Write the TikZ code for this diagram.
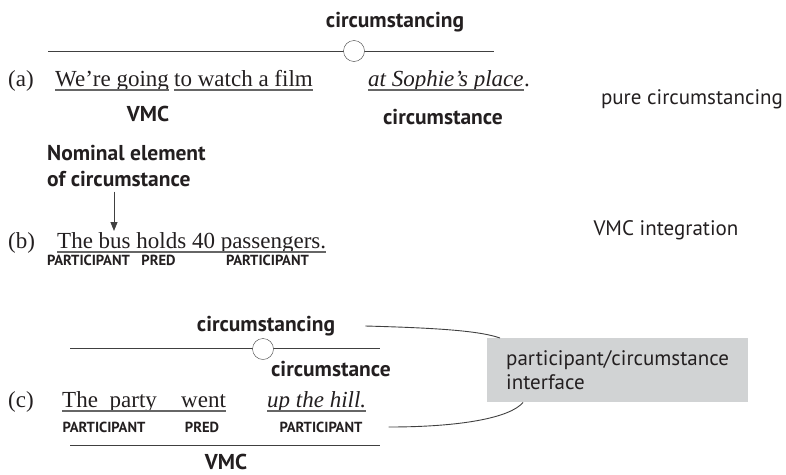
\documentclass[tikz,border=0pt]{standalone}
\usepackage{fontspec}
\setmainfont{Liberation Serif}
\setsansfont{PT Sans}
\usepackage{tikz}
\usetikzlibrary{arrows.meta,positioning,calc}
\definecolor{ink}{HTML}{231F20}
\definecolor{boxgray}{HTML}{D1D3D4}
\tikzstyle{sent}=[inner sep=0pt,anchor=base west,text=ink,font=\fontsize{23}{27}\selectfont]
\tikzstyle{tag}=[inner sep=0pt,text=ink,font=\sffamily\bfseries\fontsize{21.5}{26}\selectfont]
\tikzstyle{role}=[inner sep=0pt,text=ink,font=\sffamily\bfseries\fontsize{14.6}{17}\selectfont]
\tikzstyle{gloss}=[inner sep=0pt,text=ink,font=\sffamily\fontsize{21}{24}\selectfont]
\tikzstyle{junction}=[draw=black!75,fill=white,circle,minimum size=21pt,inner sep=0pt]
\tikzstyle{uline}=[black!60,line width=1.3pt]
\tikzstyle{rule}=[black!75,line width=0.9pt]

\begin{document}
\begin{tikzpicture}[x=1pt,y=-1pt]
    \useasboundingbox (0,0) rectangle (786,474);
    % (a) pure circumstancing
    \node [tag] (circa) at (395,22) {circumstancing};
    \coordinate (la) at (48,51);
    \coordinate (ra) at (494,51);
    \draw [rule] (la) -- (ra);
    \node [junction] (ja) at (354,51) {};
    \node [sent] (numa) at (8,86) {(a)};
    \node [sent] (going) at (55,86) {We’re going};
    \node [sent] (watch) at (174,86) {to watch a film};
    \node [sent] (place) at (368,86) {\itshape at Sophie’s place};
    \node [sent,right=0pt of place.base east,anchor=base west] (dota) {.};
    \draw [uline] ([yshift=-4pt]going.base west) -- ([yshift=-4pt]going.base east);
    \draw [uline] ([yshift=-4pt]watch.base west) -- ([yshift=-4pt]watch.base east);
    \draw [uline] ([yshift=-4pt]place.base west) -- ([yshift=-4pt]place.base east);
    \node [tag] (vmca) at (148,114) {VMC};
    \node [tag] (cirsta) at (443,117) {circumstance};
    \node [gloss] (pure) at (692,99) {pure circumstancing};

    % (b) VMC integration
    \node [tag,anchor=base west,align=left] (nominal) at (47,186)
      {Nominal element\\of circumstance};
    \coordinate (busmark) at (114,231);
    \draw [rule,-{Triangle[width=7pt,length=9pt]}] (nominal.south -| busmark) ++(0,5) -- (busmark);
    \node [sent] (numb) at (8,248) {(b)};
    \node [sent] (bus) at (57,248) {The bus holds 40 passengers.};
    \draw [uline] ([yshift=-4pt]bus.base west) -- ([yshift=-4pt]bus.base east);
    \node [role] (partb1) at (88.5,260) {PARTICIPANT};
    \node [role] (predb) at (158.5,260) {PRED};
    \node [role] (partb2) at (267.5,260) {PARTICIPANT};
    \node [gloss] (integ) at (666,230) {VMC integration};

    % (c) participant/circumstance interface
    \node [tag] (circc) at (266,326) {circumstancing};
    \coordinate (lc) at (70,348);
    \coordinate (rc) at (380,348);
    \draw [rule] (lc) -- (rc);
    \node [junction] (jc) at (263,349) {};
    \node [tag] (cirstc) at (331,369) {circumstance};
    \node [sent] (numc) at (8,407) {(c)};
    \node [sent] (party) at (62,407) {The\hspace{6pt} party};
    \node [sent] (went) at (181,407) {went};
    \node [sent] (hill) at (267,407) {\itshape up the hill.};
    \draw [uline] ([yshift=-4pt]party.base west) -- ([yshift=-4pt]went.base east);
    \draw [uline] ([yshift=-4pt]hill.base west) -- ([yshift=-4pt]hill.base east);
    \node [role] (partc1) at (104,427) {PARTICIPANT};
    \node [role] (predc) at (202,427) {PRED};
    \node [role] (partc2) at (321,427) {PARTICIPANT};
    \coordinate (lv) at (70,445);
    \coordinate (rv) at (380,445);
    \draw [rule] (lv) -- (rv);
    \node [tag] (vmcc) at (226,462) {VMC};

    \node [gloss,fill=boxgray,anchor=north west,minimum width=261pt,minimum height=64pt,
           text width=223pt,inner xsep=19pt,inner ysep=0pt,align=left] (iface) at (487,338)
      {participant/circumstance\\interface};
    \draw [rule] ([xshift=30pt]circc.east) .. controls (440,328) and (480,331) .. ([xshift=13pt]iface.north west);
    \draw [rule] ([xshift=26pt]partc2.east) .. controls (460,427) and (510,418) .. ([xshift=36pt]iface.south west);
\end{tikzpicture}
\end{document}
